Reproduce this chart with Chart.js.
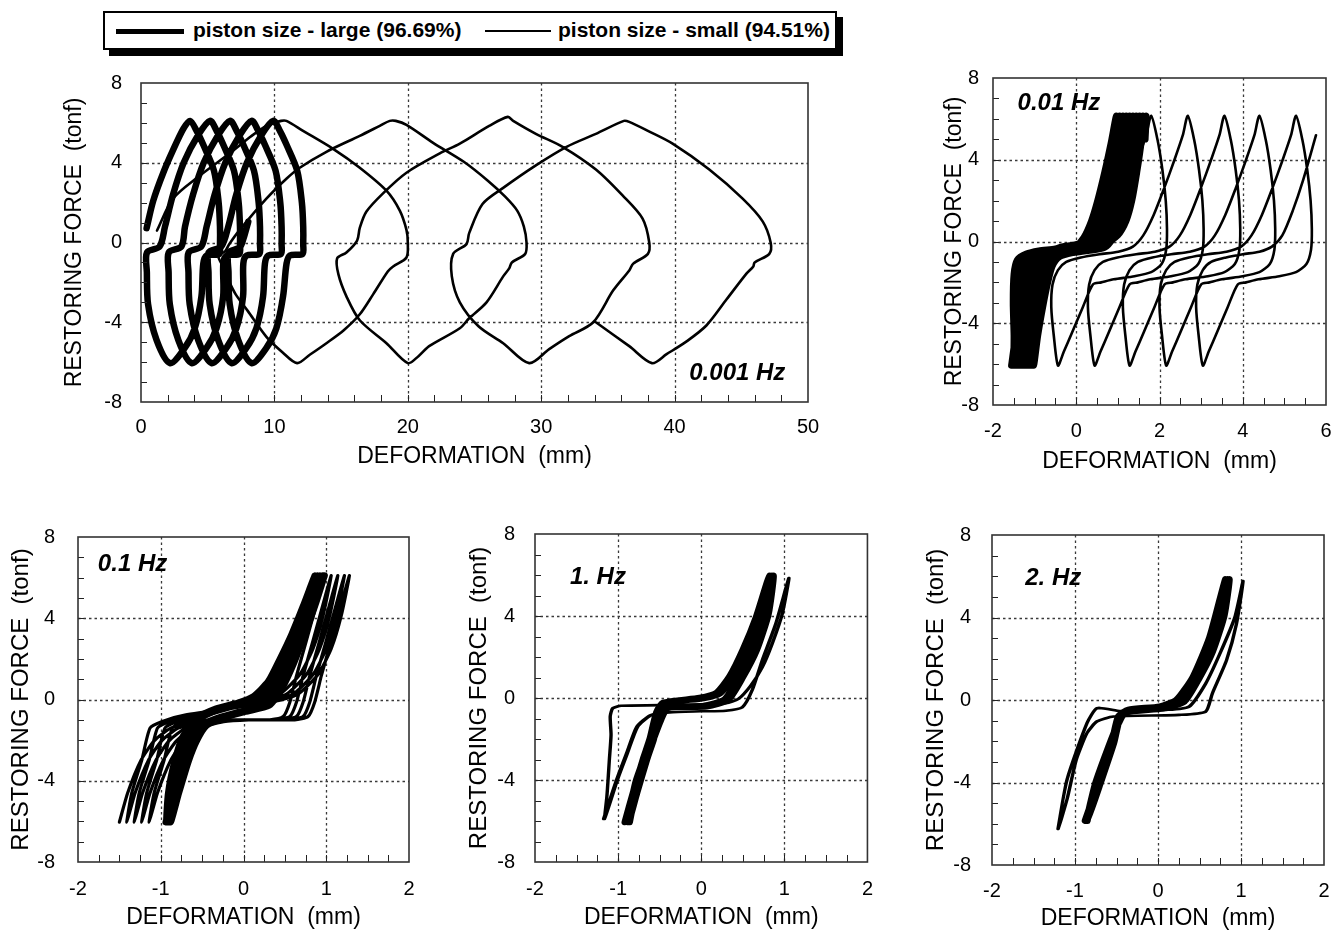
<!DOCTYPE html>
<html>
<head>
<meta charset="utf-8">
<script src="https://cdn.jsdelivr.net/npm/chart.js@4.4.1/dist/chart.umd.min.js"></script>
<style>
  html, body { margin: 0; padding: 0; background: #fff; }
  body { width: 1344px; height: 933px; position: relative; overflow: hidden; font-family: "Liberation Sans", Arial, Helvetica, sans-serif; }
  canvas { position: absolute; }
  #legend { position: absolute; left: 103px; top: 11px; width: 730px; height: 35px; border: 2px solid #000; box-shadow: 6px 6px 0 #000; background: #fff; font-weight: bold; font-size: 21px; white-space: nowrap; }
  #legend span { position: absolute; top: 5px; }
  #legend i { position: absolute; top: 17px; display: block; border-top: 0 solid #000; }
</style>
</head>
<body>
<div id="legend">
  <i style="left:11px;width:68px;border-top-width:5px;top:16px"></i><span style="left:88px">piston size - large (96.69%)</span>
  <i style="left:380px;width:66px;border-top-width:2px"></i><span style="left:453px">piston size - small (94.51%)</span>
</div>
<canvas id="c1" width="800" height="420" style="left:30px;top:60px"></canvas>
<canvas id="c2" width="440" height="420" style="left:900px;top:60px"></canvas>
<canvas id="c3" width="430" height="423" style="left:0px;top:510px"></canvas>
<canvas id="c4" width="430" height="423" style="left:450px;top:510px"></canvas>
<canvas id="c5" width="435" height="423" style="left:905px;top:510px"></canvas>
<script>
// ---------- 0.001 Hz ----------
// small piston, one continuous record (deformation mm, force tonf)
const thin001 = [
  [1.2,0.6],[2.4,2.2],[4.3,3.3],[6.7,4.5],[8.2,5.3],[9.4,5.85],[10.5,6.1],
  [10.9,6.1],[12.15,5.6],[14.4,4.7],[16.4,3.75],[18.4,2.6],[19.4,1.6],[19.9,0.63],[20.0,0],
  [19.9,-0.75],[18.9,-1.2],[18.5,-1.45],[17.4,-2.6],[16.4,-3.6],[15.2,-4.4],[13.9,-5.05],[12.65,-5.63],[11.7,-6.05],
  [10.6,-5.5],[9.4,-4.73],[8.0,-3.43],[7.1,-2.6],[6.6,-1.95],[6.1,-1.15],[5.8,-0.66],
  [6.3,-0.45],[6.6,-0.1],[7.4,0.63],[9.4,2.2],[10.9,3.2],[11.9,3.75],[13.9,4.55],[16.4,5.35],[17.9,5.85],[18.65,6.1],
  [19.1,6.1],[19.9,5.9],[21.9,5.0],[24.2,4.05],[26.0,3.1],[27.3,2.3],[28.2,1.6],[28.7,0.8],[28.9,0],
  [28.8,-0.57],[27.8,-1.0],[27.6,-1.3],[27.15,-1.7],[25.9,-3.0],[24.6,-3.8],[23.9,-4.3],[21.6,-5.2],[20.8,-5.7],[20.0,-6.05],
  [18.4,-5.05],[16.4,-3.9],[15.4,-2.7],[14.8,-1.6],[14.7,-0.8],[15.4,-0.5],[16.2,0.1],[16.4,0.73],[16.9,1.55],[18.2,2.5],[19.9,3.5],[22.4,4.47],[23.9,4.96],[26.1,5.85],[27.5,6.3],
  [27.9,6.1],[29.6,5.45],[31.6,4.8],[34.1,3.66],[36.1,2.36],[37.6,1.2],[38.1,0],
  [38.0,-0.57],[36.9,-1.06],[36.6,-1.4],[35.4,-2.4],[33.9,-4.0],[32.1,-4.7],[30.6,-5.35],[29.1,-6.05],
  [27.15,-5.05],[25.3,-4.2],[23.9,-3.0],[23.3,-1.7],[23.4,-0.57],[24.4,-0.08],[24.6,0.47],[25.6,1.93],[27.15,2.74],[29.6,3.87],[31.9,4.8],[34.1,5.45],[36.2,6.1],
  [36.6,6.05],[38.0,5.6],[39.85,4.96],[42.6,3.66],[45.1,2.2],[46.6,1.06],[47.2,0],
  [47.1,-0.57],[46.0,-1.0],[45.9,-1.2],[45.4,-1.55],[43.9,-2.85],[42.4,-4.15],[40.9,-4.96],[39.4,-5.6],[38.3,-6.05],
  [36.6,-5.2],[34.1,-4.0]
];
// large piston: cusp positions plus the loop shape between cusps
// shape point [dx, force, ref]: ref 0 = from the cusp left behind, ref 1 = from the cusp reached
const thick001Tops = [3.67, 5.17, 6.67, 8.29, 9.91];
const thick001Bottoms = [2.17, 3.80, 5.29, 6.79, 8.29];
const thick001Start = [[0.42,0.72],[0.92,2.1],[1.67,3.5],[2.4,4.63],[3.17,5.7]];
const thick001Down = [[0.5,5.6,0],[1.0,4.9,0],[1.8,3.6,0],[2.15,2.0,0],[2.25,0.8,0],[2.25,-0.1,0],[2.2,-0.57,0],[1.25,-0.65,0],[1.0,-1.06,0],[2.36,-2.7,1],[1.86,-4.3,1],[1.1,-5.3,1]];
const thick001Up = [[-1.0,-4.9,0],[-1.64,-3.1,0],[-1.73,-1.5,0],[-1.72,-0.5,0],[-0.77,-0.2,0],[-3.37,0.8,1],[-2.77,2.4,1],[-1.97,4.0,1],[-0.87,5.4,1]];
const thick001End = [[7.29,-4.9],[6.65,-3.1],[6.56,-1.5],[6.57,-0.5],[7.4,-0.25],[7.66,0.15],[8.04,1.04]];

// ---------- 0.01 Hz ----------
const thin01Tops = [1.80, 2.68, 3.56, 4.40, 5.28];
const thin01Bottoms = [-0.44, 0.44, 1.28, 2.16, 3.04];
const thin01Start = [[-0.85,-0.7],[-0.4,-0.6],[0.13,-0.5],[0.48,-0.25],[0.73,0.3],[0.98,1.3],[1.23,2.6],[1.48,4.0],[1.68,5.2]];
const thin01Down = [[0.15,5.0,0],[0.27,3.5,0],[0.35,2.0,0],[0.38,0.6,0],[0.36,-0.4,0],[0.25,-1.1,0],[0.0,-1.5,0],[-0.4,-1.7,0],[1.34,-1.85,1],[1.04,-2.0,1],[0.84,-2.1,1],[0.6,-3.2,1],[0.35,-4.4,1],[0.14,-5.4,1]];
const thin01Up = [[-0.1,-4.6,0],[-0.16,-3.2,0],[-0.13,-2.1,0],[0,-1.4,0],[0.2,-1.0,0],[0.55,-0.78,0],[1.0,-0.62,0],[-1.67,-0.5,1],[-1.32,-0.25,1],[-1.07,0.3,1],[-0.82,1.3,1],[-0.57,2.6,1],[-0.32,4.0,1],[-0.12,5.2,1]];
const thin01End = [[2.94,-4.6],[2.88,-3.2],[2.91,-2.1],[3.04,-1.4],[3.24,-1.0],[3.6,-0.78],[4.0,-0.62],[4.4,-0.5],[4.7,-0.25],[4.95,0.3],[5.2,1.5],[5.45,3.0],[5.76,5.2]];
const thick01Bottoms = [-1.56, -1.5, -1.44, -1.38, -1.32, -1.26, -1.2, -1.14, -1.08, -1.02];
const thick01Tops = [0.96, 1.04, 1.12, 1.2, 1.28, 1.36, 1.44, 1.52, 1.6, 1.68];
const thick01Up = [[0.1,-4.6,0],[0.22,-3.2,0],[0.34,-2.0,0],[0.45,-1.2,0],[0.62,-0.75,0],[0.95,-0.55,0],[1.3,-0.45,0],[-1.0,-0.3,1],[-0.78,0.2,1],[-0.6,1.0,1],[-0.45,2.0,1],[-0.28,3.4,1],[-0.13,4.8,1]];
const thick01Down = [[-0.04,4.8,0],[-0.14,3.4,0],[-0.26,2.0,0],[-0.4,1.0,0],[-0.6,0.3,0],[-0.9,-0.1,0],[-1.3,-0.25,0],[1.0,-0.35,1],[0.6,-0.45,1],[0.3,-0.6,1],[0.08,-0.9,1],[0.0,-1.6,1],[-0.02,-3.0,1],[0.0,-4.6,1]];
const thick01End = [[1.66,5.0]];

// ---------- 0.1 Hz ----------
const thin1Bottoms = [-1.5, -1.41, -1.32, -1.23, -1.14];
const thin1Tops = [1.28, 1.22, 1.14, 1.06, 0.98];
const thin1Up = [[0.1,-4.6,0],[0.26,-3.0,0],[0.42,-2.04,0],[0.62,-1.41,0],[0.9,-1.09,0],[1.2,-1.0,0],[-0.66,-1.0,1],[-0.5,-0.84,1],[-0.42,-0.13,1],[-0.34,1.16,1],[-0.22,2.9,1],[-0.1,4.67,1]];
const thin1Down = [[-0.1,4.1,0],[-0.22,2.5,0],[-0.38,1.23,0],[-0.62,0.27,0],[-0.94,-0.13,0],[0.7,-0.77,1],[0.42,-1.09,1],[0.28,-1.41,1],[0.18,-3.0,1],[0.06,-4.6,1]];
const thick1Bottoms = [-0.94, -0.93, -0.91, -0.9, -0.88];
const thick1Tops = [0.86, 0.89, 0.92, 0.95, 0.98];
const thick1Up = [[0.1,-4.6,0],[0.22,-3.0,0],[0.32,-2.0,0],[0.43,-1.3,0],[0.6,-0.95,0],[0.9,-0.6,0],[-0.67,-0.3,1],[-0.52,0.5,1],[-0.37,1.8,1],[-0.22,3.4,1],[-0.1,4.8,1]];
const thick1Down = [[-0.14,4.6,0],[-0.28,3.2,0],[-0.42,2.0,0],[-0.56,0.9,0],[-0.74,0.15,0],[-0.92,-0.15,0],[0.6,-0.45,1],[0.35,-0.95,1],[0.2,-1.8,1],[0.1,-3.0,1],[0.02,-4.6,1]];

// ---------- 1 Hz ----------
const thick10Bottoms = [-0.92, -0.89, -0.87, -0.86];
const thick10Tops = [0.82, 0.85, 0.87];
const thick10Up = [[0.1,-4.6,0],[0.22,-2.97,0],[0.3,-2.0,0],[0.38,-0.7,0],[0.46,-0.24,0],[-0.84,0.0,1],[-0.64,0.24,1],[-0.48,1.05,1],[-0.32,2.35,1],[-0.16,3.95,1]];
const thick10Down = [[-0.06,4.1,0],[-0.2,2.35,0],[-0.37,1.0,0],[-0.54,-0.07,0],[-0.8,-0.4,0],[0.46,-0.48,1],[0.38,-1.03,1],[0.26,-2.3,1],[0.1,-4.1,1]];
const thin10Bottoms = [-1.18, -1.16, -1.17];
const thin10Tops = [1.06, 1.05];
const thin10Up = [[0.16,-3.95,0],[0.28,-2.66,0],[0.4,-1.4,0],[0.56,-0.85,0],[0.78,-0.7,0],[-1.06,-0.65,1],[-0.76,-0.62,1],[-0.56,-0.45,1],[-0.44,0.4,1],[-0.32,1.85,1],[-0.16,3.6,1]];
const thin10Down = [[-0.08,4.1,0],[-0.2,2.66,0],[-0.32,1.5,0],[-0.46,0.6,0],[-0.61,-0.05,0],[-0.76,-0.25,0],[-1.26,-0.33,0],[0.2,-0.38,1],[0.1,-0.5,1],[0.07,-0.9,1],[0.08,-1.8,1],[0.06,-3.0,1],[0.03,-4.8,1]];

// ---------- 2 Hz ----------
const thick20Bottoms = [-0.88, -0.86, -0.85, -0.85];
const thick20Tops = [0.81, 0.84, 0.86];
const thick20Up = [[0.16,-4.0,0],[0.32,-2.08,0],[0.4,-0.8,0],[0.52,-0.48,0],[-0.79,-0.32,1],[-0.59,0.0,1],[-0.39,1.12,1],[-0.19,3.04,1]];
const thick20Down = [[-0.06,4.1,0],[-0.2,2.35,0],[-0.37,1.0,0],[-0.54,-0.07,0],[-0.8,-0.4,0],[0.46,-0.6,1],[0.38,-1.1,1],[0.26,-2.3,1],[0.1,-4.1,1]];
const thin20Bottoms = [-1.21, -1.2, -1.21];
const thin20Tops = [1.03, 1.02];
const thin20Up = [[0.11,-4.8,0],[0.22,-2.9,0],[0.35,-1.6,0],[0.47,-1.04,0],[0.67,-0.8,0],[-0.77,-0.72,1],[-0.45,-0.56,1],[-0.37,0.32,1],[-0.2,1.92,1],[-0.08,3.68,1]];
const thin20Down = [[-0.1,4.0,0],[-0.28,2.24,0],[-0.45,0.8,0],[-0.65,-0.32,0],[-0.93,-0.48,0],[0.75,-0.53,1],[0.47,-0.4,1],[0.35,-1.12,1],[0.11,-3.85,1]];

const FONT = '"Liberation Sans", Arial, Helvetica, sans-serif';
const THICK = 6.5;
const THIN = 2.6;

// alternate top and bottom cusps
function cusps(tops, bottoms, topY, botY, topFirst) {
    const out = [];
    const n = Math.max(tops.length, bottoms.length);
    for (let i = 0; i < n; i++) {
        const pair = topFirst ? [[tops[i], true], [bottoms[i], false]] : [[bottoms[i], false], [tops[i], true]];
        pair.forEach(([x, top]) => {
            if (x !== undefined) out.push({ x, y: top ? topY : botY, top });
        });
    }
    return out;
}

function loopPath(cs, up, down, head = [], tail = []) {
    const pts = head.map(([x, y]) => ({ x, y }));
    cs.forEach((c, i) => {
        pts.push({ x: c.x, y: c.y });
        const next = cs[i + 1];
        if (!next) return;
        (c.top ? down : up).forEach(([dx, y, ref]) => pts.push({ x: (ref ? next.x : c.x) + dx, y }));
    });
    tail.forEach(([x, y]) => pts.push({ x, y }));
    return pts;
}

const isMajor = (v, step) => Math.abs(v / step - Math.round(v / step)) < 1e-6;

// dotted grid, frame, inward ticks and frequency label
const framePlugin = {
    id: 'frame',
    beforeDatasetsDraw(chart, args, opts) {
        const { ctx, chartArea: a, scales: { x, y } } = chart;
        ctx.save();
        ctx.strokeStyle = '#3a3a3a';
        ctx.lineWidth = 1.3;
        ctx.setLineDash([2.5, 3]);
        ctx.beginPath();
        x.ticks.forEach(t => {
            if (!isMajor(t.value, opts.xMajor) || t.value <= x.min || t.value >= x.max) return;
            const px = Math.round(x.getPixelForValue(t.value)) + 0.5;
            ctx.moveTo(px, a.top); ctx.lineTo(px, a.bottom);
        });
        y.ticks.forEach(t => {
            if (!isMajor(t.value, opts.yMajor) || t.value <= y.min || t.value >= y.max) return;
            const py = Math.round(y.getPixelForValue(t.value)) + 0.5;
            ctx.moveTo(a.left, py); ctx.lineTo(a.right, py);
        });
        ctx.stroke();
        ctx.restore();
    },
    afterDatasetsDraw(chart, args, opts) {
        const { ctx, chartArea: a, scales: { x, y } } = chart;
        ctx.save();
        ctx.strokeStyle = '#222';
        ctx.lineWidth = 1;
        ctx.beginPath();
        x.ticks.forEach(t => {
            if (t.value <= x.min || t.value >= x.max) return;
            const px = Math.round(x.getPixelForValue(t.value)) + 0.5;
            ctx.moveTo(px, a.bottom); ctx.lineTo(px, a.bottom - 7);
        });
        y.ticks.forEach(t => {
            if (t.value <= y.min || t.value >= y.max) return;
            const py = Math.round(y.getPixelForValue(t.value)) + 0.5;
            ctx.moveTo(a.left, py); ctx.lineTo(a.left + 6, py);
        });
        ctx.stroke();
        ctx.lineWidth = 1.6;
        ctx.strokeStyle = '#333';
        ctx.strokeRect(a.left, a.top, a.right - a.left, a.bottom - a.top);
        ctx.fillStyle = '#000';
        ctx.font = 'italic bold 24px ' + FONT;
        ctx.textBaseline = 'alphabetic';
        ctx.fillText(opts.label, x.getPixelForValue(opts.labelX), y.getPixelForValue(opts.labelY));
        ctx.restore();
    }
};

function makeChart(p) {
    new Chart(document.getElementById(p.id), {
        type: 'scatter',
        data: {
            datasets: p.series.map(s => ({
                data: s.data,
                showLine: true,
                borderColor: '#000',
                borderWidth: s.w,
                pointRadius: 0,
                borderJoinStyle: 'round',
                borderCapStyle: 'round',
                tension: p.tension
            }))
        },
        options: {
            animation: false,
            responsive: false,
            events: [],
            layout: { padding: { top: p.padTop, right: p.padRight, left: 0, bottom: 0 } },
            plugins: {
                legend: { display: false },
                tooltip: { enabled: false },
                frame: { xMajor: p.xMajor, yMajor: 4, label: p.label, labelX: p.labelX, labelY: p.labelY }
            },
            scales: {
                x: {
                    type: 'linear', min: p.xMin, max: p.xMax,
                    grid: { display: false }, border: { display: false },
                    ticks: {
                        stepSize: p.xMinor, autoSkip: false, maxRotation: 0, color: '#000',
                        padding: p.xTickPad, font: { family: FONT, size: 20 },
                        callback: v => isMajor(v, p.xMajor) ? String(Math.round(v)) : ''
                    },
                    title: {
                        display: true, text: 'DEFORMATION  (mm)', color: '#000',
                        font: { family: FONT, size: 23, lineHeight: 1.2 },
                        padding: { top: 0, bottom: p.xTitlePad }
                    },
                    afterFit: s => { s.height = p.xHeight; }
                },
                y: {
                    type: 'linear', min: -8, max: 8,
                    grid: { display: false }, border: { display: false },
                    ticks: {
                        stepSize: 1, autoSkip: false, color: '#000',
                        padding: p.yTickPad, font: { family: FONT, size: 20 },
                        callback: v => isMajor(v, 4) ? String(v) : ''
                    },
                    title: {
                        display: true, text: 'RESTORING FORCE  (tonf)', color: '#000',
                        font: { family: FONT, size: p.yTitleSize, lineHeight: 1.2 },
                        padding: { top: p.yTitlePad, bottom: 0 }
                    },
                    afterFit: s => { s.width = p.yWidth; }
                }
            }
        },
        plugins: [framePlugin]
    });
}

const xy = ([x, y]) => ({ x, y });

const plots = [
    {
        id: 'c1', xMin: 0, xMax: 50, xMajor: 10, xMinor: 2, tension: 0.3,
        yWidth: 111, xHeight: 78, padTop: 14, padRight: 22,
        yTitleSize: 23, yTitlePad: 31, xTitlePad: 10, xTickPad: 5, yTickPad: 11,
        label: '0.001 Hz', labelX: 41.1, labelY: -6.9,
        series: [
            { w: THICK, data: loopPath(cusps(thick001Tops, thick001Bottoms, 6.1, -6.05, true), thick001Up, thick001Down, thick001Start, thick001End) },
            { w: THIN, data: thin001.map(xy) }
        ]
    },
    {
        id: 'c2', xMin: -2, xMax: 6, xMajor: 2, xMinor: 0.5, tension: 0.25,
        yWidth: 93, xHeight: 75, padTop: 15, padRight: 14,
        yTitleSize: 23, yTitlePad: 41, xTitlePad: 5, xTickPad: 6, yTickPad: 6,
        label: '0.01 Hz', labelX: -1.41, labelY: 6.45,
        series: [
            { w: THICK, data: loopPath(cusps(thick01Tops, thick01Bottoms, 6.15, -6.07, false), thick01Up, thick01Down, [], thick01End) },
            { w: THIN, data: loopPath(cusps(thin01Tops, thin01Bottoms, 6.15, -6.07, true), thin01Up, thin01Down, thin01Start, thin01End) }
        ]
    },
    {
        id: 'c3', xMin: -2, xMax: 2, xMajor: 1, xMinor: 0.25, tension: 0.2,
        yWidth: 78, xHeight: 71, padTop: 19, padRight: 21,
        yTitleSize: 24, yTitlePad: 7, xTitlePad: 2, xTickPad: 7, yTickPad: 15,
        label: '0.1 Hz', labelX: -1.76, labelY: 6.32,
        series: [
            { w: THICK, data: loopPath(cusps(thick1Tops, thick1Bottoms, 6.1, -6.04, false), thick1Up, thick1Down) },
            { w: THIN + 0.6, data: loopPath(cusps(thin1Tops, thin1Bottoms, 6.1, -6.04, false), thin1Up, thin1Down) }
        ]
    },
    {
        id: 'c4', xMin: -2, xMax: 2, xMajor: 1, xMinor: 0.25, tension: 0.2,
        yWidth: 85, xHeight: 71, padTop: 21, padRight: 12,
        yTitleSize: 24, yTitlePad: 15, xTitlePad: 2, xTickPad: 7, yTickPad: 12,
        label: '1. Hz', labelX: -1.58, labelY: 5.54,
        series: [
            { w: THICK, data: loopPath(cusps(thick10Tops, thick10Bottoms, 5.96, -6.05, false), thick10Up, thick10Down) },
            { w: THIN, data: loopPath(cusps(thin10Tops, thin10Bottoms, 5.85, -5.9, false), thin10Up, thin10Down) }
        ]
    },
    {
        id: 'c5', xMin: -2, xMax: 2, xMajor: 1, xMinor: 0.25, tension: 0.2,
        yWidth: 87, xHeight: 68, padTop: 22, padRight: 16,
        yTitleSize: 24, yTitlePad: 17, xTitlePad: 1, xTickPad: 6, yTickPad: 13,
        label: '2. Hz', labelX: -1.6, labelY: 5.59,
        series: [
            { w: THICK, data: loopPath(cusps(thick20Tops, thick20Bottoms, 5.85, -5.85, false), thick20Up, thick20Down) },
            { w: THIN, data: loopPath(cusps(thin20Tops, thin20Bottoms, 5.77, -6.25, false), thin20Up, thin20Down) }
        ]
    }
];

plots.forEach(makeChart);
</script>
</body>
</html>
